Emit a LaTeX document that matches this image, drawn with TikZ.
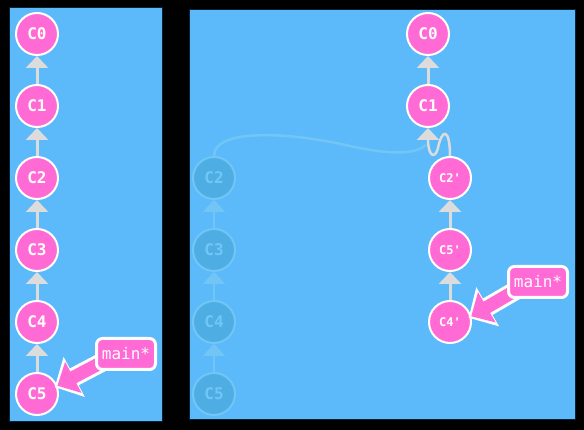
\documentclass[tikz,border=0pt]{standalone}
\usepackage{fontspec}
\setmonofont{DejaVu Sans Mono}
\usepackage{tikz}
\usetikzlibrary{shapes,arrows.meta,positioning}
\definecolor{panelblue}{HTML}{5CBAFA}
\definecolor{commitpink}{HTML}{FF6AD5}
\definecolor{linkgray}{HTML}{DCDCDC}
\definecolor{ghostfill}{HTML}{4EAEE4}
\definecolor{ghostline}{HTML}{72C6F6}
\definecolor{glow}{HTML}{0A2236}
\tikzstyle{commit} = [circle, fill=commitpink, draw=white, line width=2pt, minimum size=42pt, inner sep=0pt, text=white, font=\fontsize{16}{16}\ttfamily\bfseries]
\tikzstyle{ghost} = [commit, fill=ghostfill, draw=ghostline, text=ghostline]
\tikzstyle{small} = [font=\fontsize{12}{12}\ttfamily\bfseries]
\tikzstyle{parent} = [draw=linkgray, line width=3pt, -{Triangle[length=12pt,width=22pt]}]
\tikzstyle{ghostlink} = [draw=ghostline, line width=2.5pt, -{Triangle[length=12pt,width=22pt]}]
\tikzstyle{branch} = [rectangle, rounded corners=6pt, fill=commitpink, draw=white, line width=3pt, minimum width=59pt, minimum height=31pt, inner sep=2pt, text=white, font=\fontsize{16}{16}\ttfamily]
\tikzstyle{branchout} = [draw=white, line width=19pt, -{Triangle[length=22pt,width=44pt]}, shorten >=-3pt]
\tikzstyle{branchin} = [draw=commitpink, line width=13pt, -{Triangle[length=18pt,width=34pt]}]

\begin{document}
\begin{tikzpicture}[x=1pt, y=-1pt]
	\useasboundingbox (0,0) rectangle (584,430);
	\fill [black] (0,0) rectangle (584,430);
	\draw [glow, line width=2pt] (10,8) rectangle (162,421);
	\draw [glow, line width=2pt] (190,10) rectangle (575,419);
	\fill [panelblue] (10,8) rectangle (162,421);
	\fill [panelblue] (190,10) rectangle (575,419);
	
	% left: before
	\node [commit] (c0) at (37,34) {C0};
	\node [commit] (c1) at (37,106) {C1};
	\node [commit] (c2) at (37,178) {C2};
	\node [commit] (c3) at (37,250) {C3};
	\node [commit] (c4) at (37,322) {C4};
	\node [commit] (c5) at (37,394) {C5};
	
	\path [parent] (c1) -- (c0);
	\path [parent] (c2) -- (c1);
	\path [parent] (c3) -- (c2);
	\path [parent] (c4) -- (c3);
	\path [parent] (c5) -- (c4);
	
	\coordinate (mainfoot) at (110,358);
	\path [branchout] (mainfoot) -- (c5.22);
	\path [branchin] (mainfoot) -- (c5.22);
	\node [branch] (main) at (126,354) {main*};
	
	% right: after
	\node [ghost] (oc2) at (214,178) {C2};
	\node [ghost] (oc3) at (214,250) {C3};
	\node [ghost] (oc4) at (214,322) {C4};
	\node [ghost] (oc5) at (214,394) {C5};
	\node [commit] (rc0) at (428,34) {C0};
	\node [commit] (rc1) at (428,106) {C1};
	\node [commit, small] (rc2) at (450,178) {C2'};
	\node [commit, small] (rc5) at (450,250) {C5'};
	\node [commit, small] (rc4) at (450,322) {C4'};
	
	\path [ghostlink] (oc3) -- (oc2);
	\path [ghostlink] (oc4) -- (oc3);
	\path [ghostlink] (oc5) -- (oc4);
	\coordinate (rc1base) at (426,145);
	\draw [ghostline, line width=2.5pt] (oc2.north) .. controls (214,128) and (290,132) .. (350,146) .. controls (400,157) and (418,152) .. (rc1base);
	
	\path [parent] (rc1) -- (rc0);
	\path [parent, line width=2.5pt] (rc2.north) .. controls (450,128) and (442,128) .. (438,148) .. controls (435,160) and (428,156) .. (rc1.south);
	\path [parent] (rc5) -- (rc2);
	\path [parent] (rc4) -- (rc5);
	
	\coordinate (mainfoot2) at (520,288);
	\path [branchout] (mainfoot2) -- (rc4.15);
	\path [branchin] (mainfoot2) -- (rc4.15);
	\node [branch] (main2) at (538,282) {main*};
\end{tikzpicture}
\end{document}
